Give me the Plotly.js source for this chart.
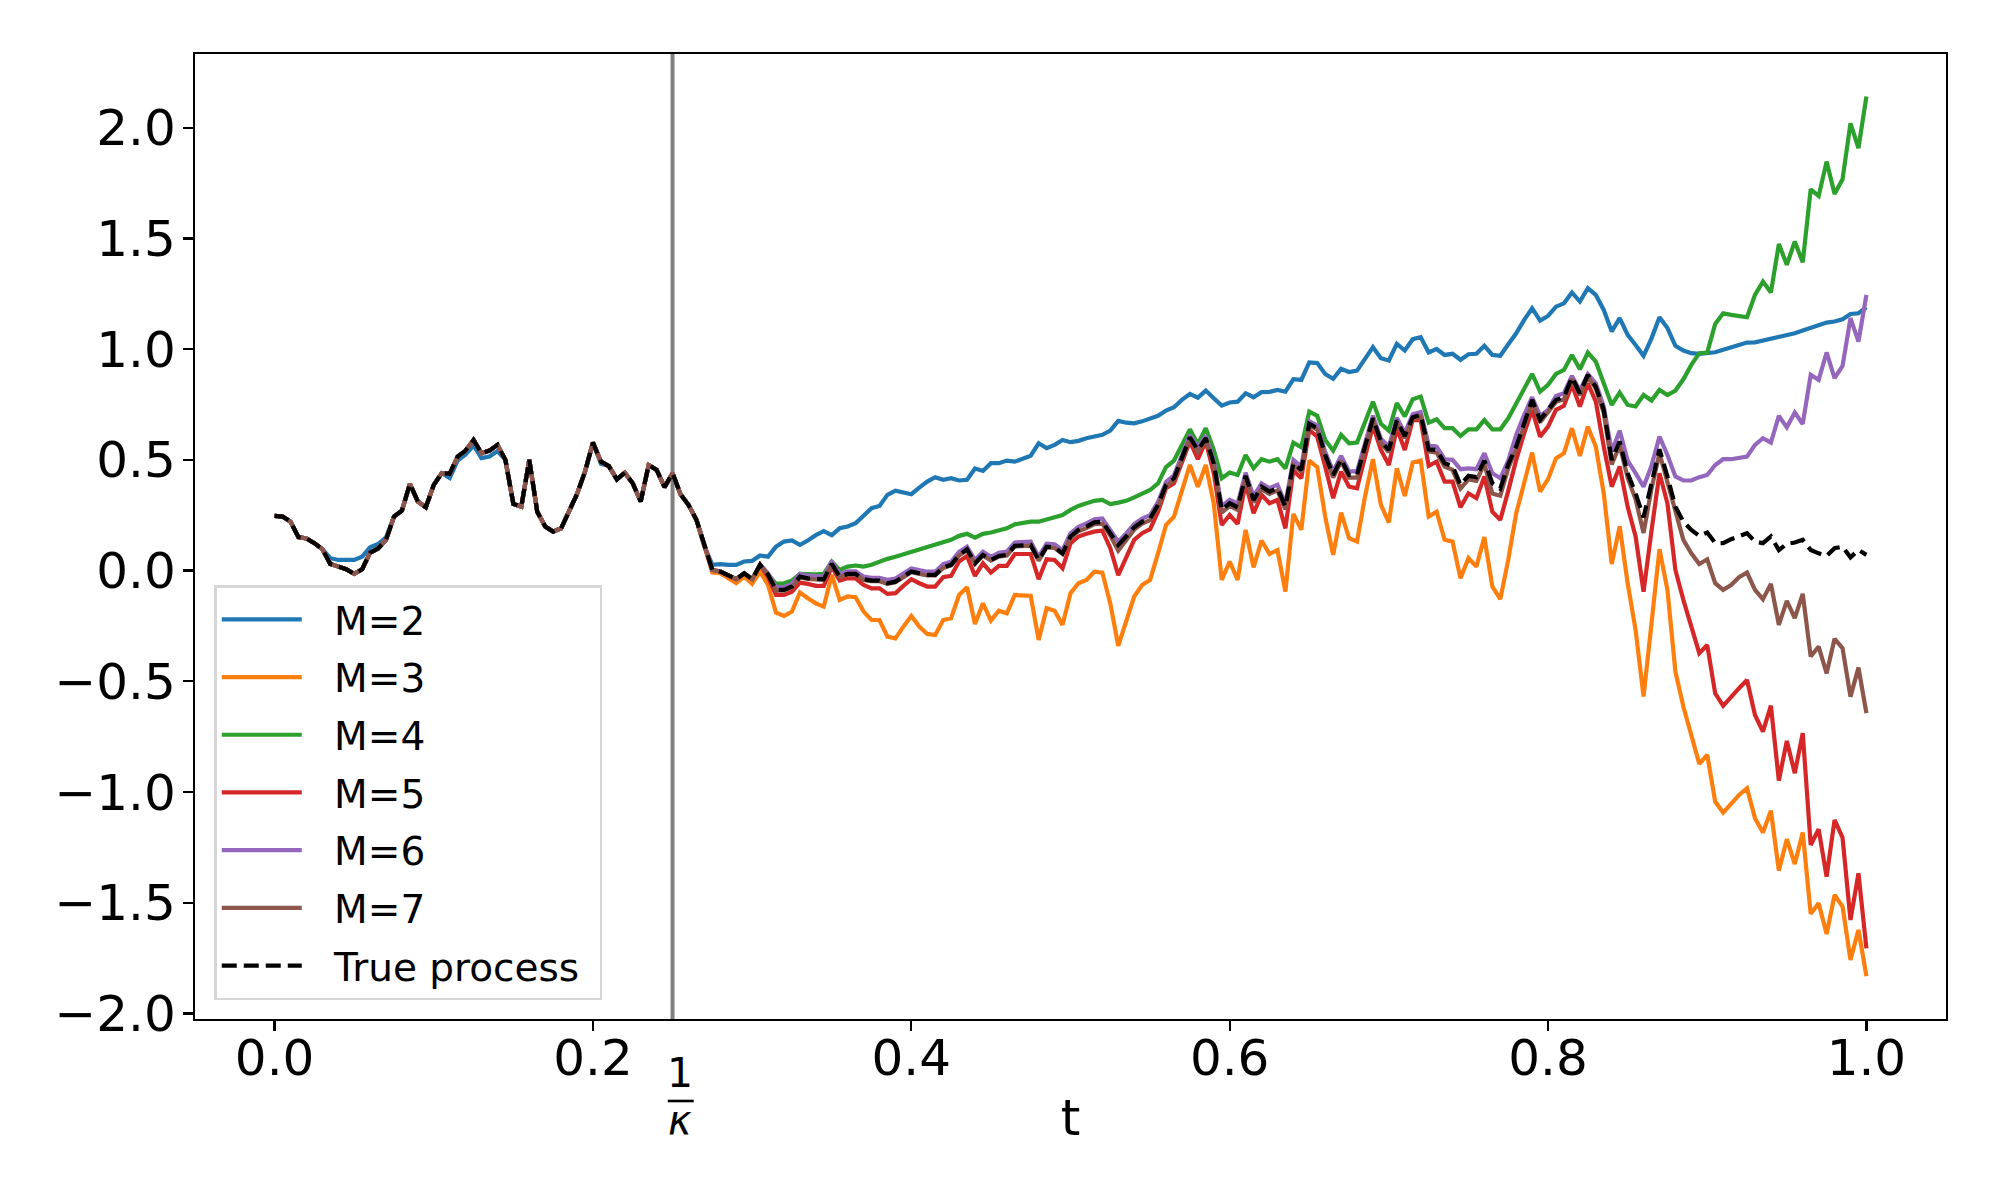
<!DOCTYPE html>
<html>
<head>
<meta charset="utf-8">
<script src="https://cdn.plot.ly/plotly-3.0.1.min.js"></script>
<style>
html,body{margin:0;padding:0;background:#ffffff;}
#chart{width:2000px;height:1200px;}
</style>
</head>
<body>
<div id="chart"></div>
<script>
// time grid: 201 samples on [0, 1]
const t = Array.from({length: 201}, (_, i) => i / 200);

// values for t = 0 ... 0.27 (identical for the true process and M=3..7)
const sharedStart = [
0.247,0.244,0.221,0.151,0.145,0.124,0.097,0.030,0.018,0.006,
-0.015,0.006,0.081,0.100,0.139,0.244,0.271,0.392,0.312,0.286,
0.387,0.440,0.437,0.515,0.542,0.590,0.530,0.542,0.568,0.500,
0.301,0.289,0.500,0.266,0.199,0.176,0.191,0.266,0.346,0.447,
0.578,0.492,0.472,0.412,0.442,0.394,0.312,0.477,0.455,0.377,
0.440,0.345,0.297,0.229,0.108];

const m2Start = [
0.247,0.244,0.221,0.151,0.145,0.124,0.097,0.056,0.048,0.048,
0.048,0.063,0.105,0.120,0.150,0.244,0.271,0.392,0.312,0.286,
0.387,0.440,0.418,0.497,0.525,0.565,0.508,0.515,0.540,0.500,
0.301,0.289,0.500,0.266,0.199,0.176,0.191,0.266,0.346,0.447,
0.578,0.482,0.472,0.412,0.442,0.394,0.312,0.477,0.455,0.377,
0.440,0.345,0.297,0.229,0.108];

const m2Rest = [
0.026,0.029,0.026,0.026,0.041,0.044,0.068,0.063,0.108,0.131,
0.136,0.116,0.136,0.160,0.178,0.160,0.191,0.199,0.214,0.251,
0.282,0.292,0.342,0.361,0.354,0.345,0.375,0.402,0.422,0.410,
0.417,0.407,0.410,0.461,0.450,0.485,0.485,0.497,0.492,0.507,
0.519,0.575,0.553,0.568,0.590,0.580,0.586,0.598,0.606,0.613,
0.632,0.676,0.668,0.665,0.674,0.685,0.699,0.723,0.738,0.771,
0.798,0.781,0.813,0.778,0.745,0.759,0.763,0.801,0.783,0.806,
0.807,0.816,0.808,0.864,0.861,0.940,0.937,0.888,0.866,0.911,
0.897,0.903,0.955,1.009,0.959,0.949,1.024,0.994,1.045,1.054,
0.985,1.001,0.974,0.979,0.952,0.977,0.979,1.015,0.974,0.970,
1.022,1.072,1.132,1.185,1.129,1.150,1.192,1.207,1.256,1.215,
1.275,1.245,1.177,1.080,1.140,1.065,1.019,0.970,1.049,1.144,
1.095,1.015,0.994,0.982,0.979,0.982,0.986,0.997,1.009,1.019,
1.030,1.031,1.039,1.049,1.054,1.063,1.072,1.084,1.096,1.105,
1.120,1.125,1.135,1.159,1.162,1.189];

const m3Rest = [
-0.009,-0.012,-0.035,-0.057,-0.027,-0.060,-0.005,-0.065,-0.190,-0.205,
-0.185,-0.099,-0.125,-0.148,-0.163,-0.019,-0.132,-0.117,-0.120,-0.185,
-0.223,-0.223,-0.298,-0.306,-0.253,-0.205,-0.253,-0.286,-0.291,-0.223,
-0.215,-0.110,-0.075,-0.241,-0.148,-0.226,-0.181,-0.193,-0.110,-0.114,
-0.114,-0.313,-0.170,-0.181,-0.245,-0.102,-0.057,-0.042,-0.005,-0.009,
-0.148,-0.340,-0.230,-0.117,-0.065,-0.042,0.078,0.206,0.244,0.364,
0.477,0.379,0.477,0.304,-0.042,0.041,-0.042,0.184,0.015,0.136,
0.075,0.093,-0.095,0.256,0.184,0.497,0.467,0.244,0.071,0.262,
0.146,0.131,0.334,0.503,0.297,0.217,0.462,0.337,0.488,0.497,
0.244,0.266,0.139,0.131,-0.035,0.056,0.018,0.151,-0.072,-0.129,
0.048,0.259,0.394,0.533,0.357,0.413,0.507,0.530,0.643,0.518,
0.650,0.560,0.349,0.030,0.200,-0.057,-0.268,-0.569,-0.238,0.097,
-0.087,-0.456,-0.614,-0.749,-0.873,-0.832,-1.043,-1.093,-1.050,-1.013,
-0.983,-1.118,-1.183,-1.084,-1.355,-1.213,-1.325,-1.183,-1.550,-1.502,
-1.641,-1.465,-1.517,-1.758,-1.623,-1.831];

const m4Rest = [
0.003,-0.004,-0.024,-0.039,-0.012,-0.039,0.026,-0.019,-0.060,-0.057,
-0.045,-0.015,-0.017,-0.017,-0.015,0.041,0.003,0.018,0.023,0.018,
0.026,0.041,0.053,0.063,0.074,0.084,0.093,0.105,0.116,0.126,
0.139,0.157,0.166,0.149,0.166,0.172,0.184,0.191,0.209,0.214,
0.221,0.221,0.232,0.241,0.251,0.274,0.292,0.304,0.315,0.319,
0.300,0.307,0.315,0.331,0.349,0.364,0.394,0.467,0.497,0.568,
0.638,0.572,0.643,0.545,0.417,0.443,0.432,0.522,0.462,0.503,
0.492,0.503,0.462,0.578,0.557,0.718,0.699,0.590,0.542,0.613,
0.575,0.578,0.673,0.763,0.663,0.632,0.756,0.696,0.774,0.786,
0.668,0.683,0.643,0.643,0.608,0.638,0.638,0.680,0.638,0.638,
0.688,0.756,0.816,0.888,0.808,0.839,0.888,0.906,0.974,0.909,
0.985,0.944,0.846,0.748,0.804,0.748,0.741,0.793,0.768,0.816,
0.793,0.813,0.864,0.929,0.982,0.985,1.114,1.162,1.155,1.150,
1.144,1.245,1.305,1.256,1.475,1.381,1.486,1.392,1.722,1.692,
1.847,1.701,1.767,2.020,1.908,2.141];

const m5Rest = [
0.003,-0.004,-0.024,-0.039,-0.012,-0.039,0.026,-0.030,-0.110,-0.110,
-0.095,-0.054,-0.060,-0.069,-0.069,0.018,-0.045,-0.035,-0.035,-0.065,
-0.080,-0.080,-0.105,-0.102,-0.069,-0.039,-0.057,-0.072,-0.072,-0.030,
-0.024,0.041,0.066,-0.024,0.033,-0.009,0.021,0.021,0.075,0.075,
0.075,-0.039,0.051,0.048,0.011,0.123,0.154,0.166,0.176,0.181,
0.101,-0.020,0.056,0.139,0.169,0.187,0.266,0.372,0.394,0.485,
0.583,0.503,0.583,0.440,0.206,0.251,0.211,0.394,0.259,0.342,
0.304,0.319,0.191,0.452,0.417,0.635,0.605,0.470,0.327,0.447,
0.379,0.372,0.515,0.654,0.545,0.477,0.643,0.545,0.680,0.680,
0.473,0.492,0.402,0.402,0.286,0.349,0.327,0.425,0.266,0.229,
0.360,0.500,0.620,0.726,0.605,0.650,0.726,0.744,0.839,0.741,
0.846,0.763,0.560,0.379,0.470,0.289,0.154,-0.095,0.180,0.440,
0.304,0.003,-0.132,-0.260,-0.373,-0.336,-0.554,-0.611,-0.569,-0.531,
-0.494,-0.652,-0.727,-0.610,-0.948,-0.769,-0.915,-0.734,-1.239,-1.168,
-1.382,-1.126,-1.206,-1.578,-1.367,-1.706];

const m6Rest = [
0.003,-0.004,-0.024,-0.039,-0.012,-0.039,0.026,-0.012,-0.075,-0.075,
-0.060,-0.015,-0.023,-0.027,-0.027,0.042,-0.015,-0.003,-0.003,-0.027,
-0.033,-0.033,-0.042,-0.036,-0.013,0.010,0.002,-0.005,-0.005,0.029,
0.040,0.085,0.108,0.048,0.085,0.062,0.080,0.086,0.127,0.131,
0.131,0.062,0.122,0.119,0.092,0.168,0.198,0.213,0.232,0.235,
0.183,0.131,0.168,0.210,0.235,0.250,0.311,0.400,0.430,0.520,
0.612,0.556,0.610,0.498,0.290,0.320,0.302,0.442,0.335,0.394,
0.372,0.388,0.303,0.500,0.470,0.675,0.656,0.536,0.448,0.518,
0.448,0.448,0.574,0.700,0.596,0.560,0.690,0.622,0.706,0.716,
0.568,0.560,0.503,0.500,0.458,0.462,0.458,0.530,0.440,0.417,
0.497,0.613,0.703,0.783,0.699,0.726,0.789,0.801,0.879,0.813,
0.888,0.846,0.741,0.538,0.632,0.497,0.440,0.379,0.473,0.605,
0.522,0.425,0.407,0.407,0.422,0.432,0.477,0.503,0.503,0.507,
0.515,0.568,0.598,0.578,0.699,0.647,0.714,0.662,0.884,0.861,
0.985,0.869,0.924,1.140,1.034,1.245];

const m7Rest = [
0.003,-0.004,-0.024,-0.039,-0.012,-0.039,0.026,-0.019,-0.090,-0.090,
-0.075,-0.030,-0.038,-0.042,-0.042,0.027,-0.030,-0.018,-0.018,-0.042,
-0.048,-0.048,-0.060,-0.053,-0.030,-0.007,-0.015,-0.022,-0.022,0.012,
0.023,0.068,0.093,0.030,0.068,0.045,0.063,0.068,0.109,0.113,
0.113,0.045,0.105,0.102,0.075,0.148,0.178,0.192,0.210,0.212,
0.158,0.090,0.135,0.185,0.212,0.228,0.290,0.380,0.410,0.500,
0.595,0.535,0.590,0.478,0.262,0.292,0.274,0.418,0.308,0.368,
0.346,0.362,0.276,0.476,0.446,0.656,0.636,0.512,0.420,0.494,
0.420,0.420,0.550,0.680,0.574,0.535,0.670,0.598,0.686,0.696,
0.538,0.532,0.470,0.455,0.370,0.412,0.405,0.482,0.348,0.338,
0.462,0.548,0.655,0.762,0.670,0.716,0.762,0.774,0.864,0.792,
0.876,0.822,0.712,0.480,0.565,0.420,0.322,0.170,0.370,0.530,
0.400,0.265,0.139,0.078,0.030,0.051,-0.057,-0.087,-0.065,-0.030,
-0.009,-0.087,-0.129,-0.060,-0.245,-0.137,-0.215,-0.105,-0.388,-0.343,
-0.464,-0.308,-0.350,-0.569,-0.438,-0.644];

const trueRest = [
0.003,-0.004,-0.024,-0.039,-0.012,-0.039,0.026,-0.019,-0.087,-0.087,
-0.072,-0.027,-0.035,-0.039,-0.039,0.030,-0.027,-0.015,-0.015,-0.039,
-0.045,-0.045,-0.057,-0.050,-0.027,-0.004,-0.012,-0.019,-0.019,0.015,
0.026,0.071,0.096,0.033,0.071,0.048,0.066,0.071,0.112,0.116,
0.116,0.048,0.108,0.105,0.078,0.154,0.184,0.199,0.218,0.221,
0.169,0.116,0.154,0.196,0.221,0.236,0.297,0.387,0.417,0.508,
0.602,0.545,0.598,0.485,0.274,0.304,0.286,0.428,0.319,0.379,
0.357,0.372,0.289,0.485,0.455,0.663,0.643,0.522,0.432,0.503,
0.432,0.432,0.560,0.688,0.583,0.545,0.678,0.608,0.693,0.703,
0.548,0.545,0.485,0.473,0.387,0.428,0.422,0.497,0.395,0.370,
0.480,0.560,0.665,0.771,0.681,0.726,0.771,0.783,0.873,0.801,
0.884,0.831,0.726,0.500,0.583,0.440,0.349,0.241,0.394,0.548,
0.425,0.289,0.221,0.184,0.157,0.172,0.124,0.124,0.142,0.157,
0.169,0.131,0.124,0.154,0.093,0.121,0.127,0.139,0.093,0.078,
0.066,0.101,0.108,0.060,0.093,0.071];

const seriesNames = ['M=2','M=3','M=4','M=5','M=6','M=7'];
const seriesColors = ['#1f77b4','#ff7f0e','#2ca02c','#d62728','#9467bd','#8c564b'];
const seriesValues = [
  m2Start.concat(m2Rest),
  sharedStart.concat(m3Rest),
  sharedStart.concat(m4Rest),
  sharedStart.concat(m5Rest),
  sharedStart.concat(m6Rest),
  sharedStart.concat(m7Rest)
];
const trueProcess = sharedStart.concat(trueRest);
const trueName = 'True process';

const xTickVals = [0, 0.2, 0.4, 0.6, 0.8, 1.0];
const xTickText = ['0.0','0.2','0.4','0.6','0.8','1.0'];
const yTickVals = [-2, -1.5, -1, -0.5, 0, 0.5, 1, 1.5, 2];
const yTickText = ['\u22122.0','\u22121.5','\u22121.0','\u22120.5','0.0','0.5','1.0','1.5','2.0'];
const kappaT = 0.25;

const LW = 4.2;
const GAP = '\u2002\u2009';   // spacing between legend sample line and label
const traces = seriesNames.map((name, k) => ({
  type: 'scatter', mode: 'lines', name: GAP + name, legendgroup: 'g' + k,
  x: t, y: seriesValues[k],
  line: {color: seriesColors[k], width: LW}
}));
traces.push({
  type: 'scatter', mode: 'lines', name: GAP + trueName + '\u2009\u2009', legendgroup: 'gTrue',
  x: t, y: trueProcess,
  line: {color: '#000000', width: LW, dash: '15px,7px'}
});

const plotL = 195, plotR = 1946, plotT = 54, plotB = 1019;
const plotH = plotB - plotT;
const py = (px) => (plotB - px) / plotH;

const layout = {
  width: 2000, height: 1200,
  margin: {l: plotL, r: 2000 - plotR, t: plotT, b: 1200 - plotB, pad: 0},
  paper_bgcolor: '#ffffff', plot_bgcolor: '#ffffff',
  font: {family: 'DejaVu Sans, sans-serif', size: 50, color: '#000000'},
  showlegend: true,
  legend: {
    x: 0.011, y: py(585), xanchor: 'left', yanchor: 'top',
    bgcolor: 'rgba(255,255,255,0.85)', bordercolor: '#d6d6d6', borderwidth: 2.5,
    font: {family: 'DejaVu Sans, sans-serif', size: 39, color: '#000000'},
    itemwidth: 80, tracegroupgap: 4
  },
  xaxis: {
    range: [-0.05, 1.05], tickmode: 'array', tickvals: xTickVals, ticktext: xTickText,
    ticks: 'outside', ticklen: 10, tickwidth: 2.2, tickcolor: '#000000',
    showline: true, mirror: true, linecolor: '#000000', linewidth: 2.2,
    showgrid: false, zeroline: false, automargin: false,
    ticklabelstandoff: -16,
    tickfont: {family: 'DejaVu Sans, sans-serif', size: 50, color: '#000000'},
    title: {text: 't', font: {family: 'DejaVu Sans, sans-serif', size: 50, color: '#000000'}, standoff: 14}
  },
  yaxis: {
    range: [-2.025, 2.333], tickmode: 'array', tickvals: yTickVals, ticktext: yTickText,
    ticks: 'outside', ticklen: 10, tickwidth: 2.2, tickcolor: '#000000',
    showline: true, mirror: true, linecolor: '#000000', linewidth: 2.2,
    showgrid: false, zeroline: false, automargin: false,
    ticklabelstandoff: -3,
    tickfont: {family: 'DejaVu Sans, sans-serif', size: 50, color: '#000000'}
  },
  shapes: [
    {type: 'line', xref: 'x', yref: 'paper', x0: kappaT, x1: kappaT, y0: 0, y1: 1,
     line: {color: '#808080', width: 4}, layer: 'below'},
    {type: 'line', xref: 'x', yref: 'paper', x0: 0.2470, x1: 0.2633, y0: py(1101), y1: py(1101),
     line: {color: '#000000', width: 2.6}}
  ],
  annotations: [
    {xref: 'x', yref: 'paper', x: 0.2545, y: py(1073), text: '1', showarrow: false,
     xanchor: 'center', yanchor: 'middle',
     font: {family: 'DejaVu Sans, sans-serif', size: 41, color: '#000000'}},
    {xref: 'x', yref: 'paper', x: 0.2545, y: py(1120), text: '<i>κ</i>', showarrow: false,
     xanchor: 'center', yanchor: 'middle',
     font: {family: 'DejaVu Sans, sans-serif', size: 40, color: '#000000'}}
  ]
};

Plotly.newPlot('chart', traces, layout, {displayModeBar: false, staticPlot: true});
</script>
</body>
</html>
